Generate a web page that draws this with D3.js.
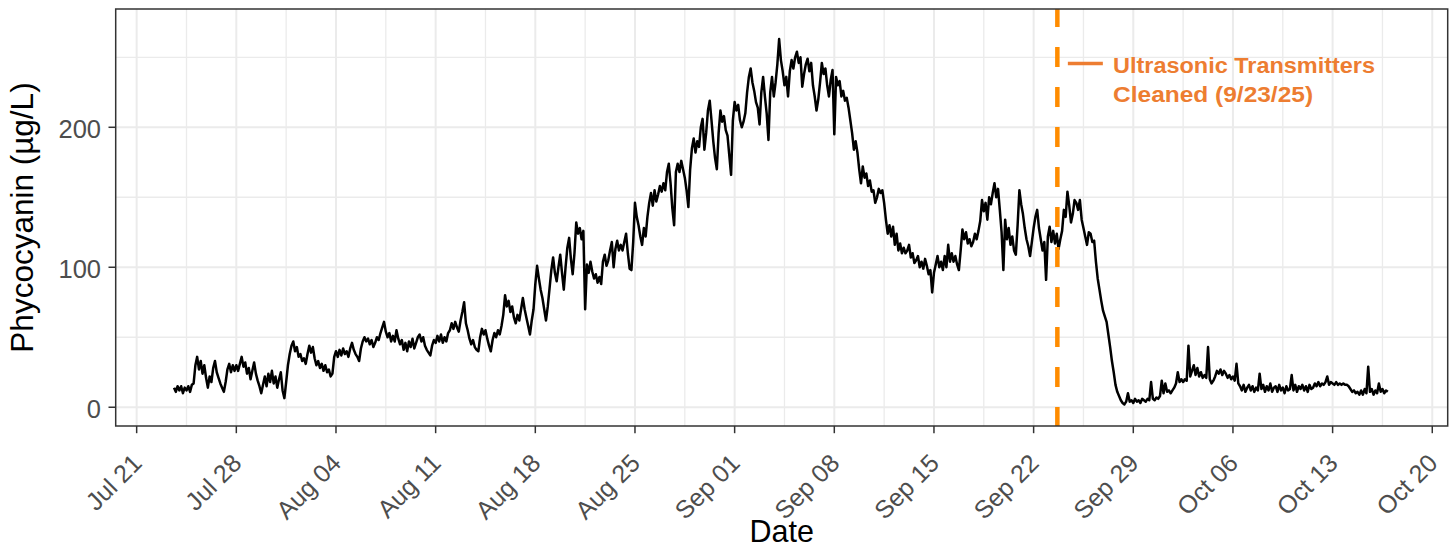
<!DOCTYPE html>
<html><head><meta charset="utf-8">
<script src="https://cdn.jsdelivr.net/npm/d3@7"></script>
<style>body{margin:0;background:#fff}svg{display:block}text{font-family:"Liberation Sans",Arial,sans-serif}</style>
</head><body><svg id="chart" width="1456" height="548"></svg>
<script>
// ---- data (3-hourly readings) ----
const seriesStart = Date.UTC(2025, 6, 23, 15); // Jul 23 15:00
const stepHours = 3;
const julyValues = [
 14,11,15,
 12,15,10,14,12,15,11,16,
 17,30,36,27,33,24,30,21,
 14,22,18,28,33,25,21,17,
 14,11,18,27,31,25,30,26,
 30,26,31,36,29,32,24,28,
 20,26,32,24,19,15,10,16,
 22,15,24,18,26,17,22,14,
 20,25,12,6.5,18,30,38,44
];
const augustValues = [
 47,40,43,36,38,33,35,31,
 38,44,39,43,35,30,33,28,
 31,26,30,25,27,22,24,36,
 40,36,41,37,42,38,40,36,
 42,46,41,38,36,33,42,47,
 50,47,49,45,48,43,46,50,
 48,53,57,61,54,50,53,47,
 51,47,55,49,45,48,41,46,
 40,47,43,49,42,46,50,52,
 47,50,44,41,39,37,44,48,
 46,51,47,52,46,50,47,53,
 55,60,56,61,57,54,62,68,
 75,60,55,49,45,48,43,41,
 40,50,56,52,55,49,44,40,
 48,53,50,55,52,58,66,80,
 72,76,68,72,64,60,66,62,
 70,78,70,64,58,52,62,70,
 88,101,92,84,78,70,62,72,
 85,98,107,96,90,100,109,96,
 84,100,114,121,106,95,110,132,
 124,128,120,126,70,102,96,104,
 97,92,95,89,93,88,104,109,
 101,105,112,118,100,113,119,112,
 116,112,118,124,110,99,98,118,
 146,136,130,122,116,128,122,136,
 146,153,144,155,147,152,158,154,
 160,155,168,174,160,142,130,168,
 174,168,176,170,164,155,143,170,
 185,192,182,190,186,200,206,184,
 196,212,219,205,190,178,170,196,
 212,204,208,198,194,180,166,205
];
const septemberValues = [
 218,212,216,205,200,204,210,225,
 236,242,232,226,218,214,202,225,
 236,222,210,191,225,236,222,232,
 245,263,248,240,230,236,222,240,
 248,242,250,254,246,250,229,238,
 245,249,240,246,230,222,212,220,
 232,246,238,242,230,222,234,241,
 195,236,230,233,222,226,219,221,
 214,205,196,184,190,182,170,160,
 172,164,167,158,162,154,155,146,
 150,156,153,155,146,134,124,130,
 122,129,116,124,112,117,110,114,
 110,112,116,107,110,103,105,108,
 100,104,99,106,101,95,98,82,
 96,102,108,100,104,98,108,100,
 116,104,110,104,108,102,98,112,
 127,120,125,117,120,115,118,124,
 120,126,133,148,140,146,134,150,
 145,153,160,150,156,141,125,98,
 134,120,128,116,122,112,109,130,
 155,145,138,128,120,115,108,118,
 128,136,141,128,120,112,118,91,
 122,129,118,126,117,124,113,120,
 126,141,136,154,144,132,138,148,
 146,141,148,134,128,122,116,125,
 124,118,119,104,92,84,76,69,
 65,61,52,43,33,25,16,11,
 8,5,3,2,4,10,4,5,
 3,6,4,5,3,6,5,4,
 6,5,18,6,5,7,6,8
];
const octoberValues = [
 19,10,17,11,12,10,12,14,
 17,25,18,20,18,20,19,44,
 22,26,30,23,28,22,25,21,
 23,21,43,20,17,19,22,26,
 24,27,23,26,24,21,23,20,
 22,19,31,17,15,12,16,11,
 14,16,12,15,11,14,12,24,
 13,16,11,15,12,17,11,14,
 15,11,16,12,14,10,15,12,
 13,23,12,16,11,15,13,16,
 12,15,11,16,13,14,17,15,
 18,15,17,16,18,22,16,18,
 17,16,18,16,17,16,17,16,
 16,15,13,11,12,10,11,9,
 12,9,13,10,29,11,13,9,
 12,10,17,11,13,10,12,11
];
const xTickLabels = ["Jul 21","Jul 28","Aug 04","Aug 11","Aug 18","Aug 25","Sep 01","Sep 08","Sep 15","Sep 22","Sep 29","Oct 06","Oct 13","Oct 20"];
const yTickValues = [0, 100, 200];
const yMinorValues = [50, 150, 250];
const cleaningDate = Date.UTC(2025, 8, 23, 16);
const annotationLines = ["Ultrasonic Transmitters", "Cleaned (9/23/25)"];
const xLimits = [Date.UTC(2025, 6, 19, 12, 40), Date.UTC(2025, 9, 21, 2, 0)];
const yLimits = [-13.4, 284.5];

// ---- build ----
const allValues = julyValues.concat(augustValues, septemberValues, octoberValues);
const series = allValues.map((v, i) => ({ date: new Date(seriesStart + i * stepHours * 3600e3), value: v }));
const parseTick = d3.utcParse("%b %d %Y");
const tickDates = xTickLabels.map(s => parseTick(s + " 2025"));
const minorDates = d3.pairs(tickDates).map(([a, b]) => new Date((+a + +b) / 2));

const L = 115.7, R = 1447.7, T = 9, B = 426;
const x = d3.scaleUtc().domain(xLimits.map(d => new Date(d))).range([L, R]);
const y = d3.scaleLinear().domain(yLimits).range([B, T]);

const svg = d3.select("#chart");
svg.append("rect").attr("width", 1456).attr("height", 548).attr("fill", "#fff");
svg.append("defs").append("clipPath").attr("id", "clip")
  .append("rect").attr("x", L).attr("y", T).attr("width", R - L).attr("height", B - T);

const grid = svg.append("g");
grid.selectAll(".vmin").data(minorDates).join("line")
  .attr("x1", d => x(d)).attr("x2", d => x(d)).attr("y1", T).attr("y2", B)
  .attr("stroke", "#EBEBEB").attr("stroke-width", 1.3);
grid.selectAll(".hmin").data(yMinorValues).join("line")
  .attr("x1", L).attr("x2", R).attr("y1", d => y(d)).attr("y2", d => y(d))
  .attr("stroke", "#EBEBEB").attr("stroke-width", 1.3);
grid.selectAll(".vmaj").data(tickDates).join("line")
  .attr("x1", d => x(d)).attr("x2", d => x(d)).attr("y1", T).attr("y2", B)
  .attr("stroke", "#EBEBEB").attr("stroke-width", 2);
grid.selectAll(".hmaj").data(yTickValues).join("line")
  .attr("x1", L).attr("x2", R).attr("y1", d => y(d)).attr("y2", d => y(d))
  .attr("stroke", "#EBEBEB").attr("stroke-width", 2);

const plot = svg.append("g").attr("clip-path", "url(#clip)");
plot.append("path").datum(series)
  .attr("fill", "none").attr("stroke", "#000").attr("stroke-width", 2.5)
  .attr("stroke-linejoin", "round")
  .attr("d", d3.line().x(d => x(d.date)).y(d => y(d.value)));

const cx = x(new Date(cleaningDate));
plot.append("line").attr("x1", cx).attr("x2", cx).attr("y1", B + 1).attr("y2", T)
  .attr("stroke", "#FF8C00").attr("stroke-width", 4.5).attr("stroke-dasharray", "20,20");

// panel border
svg.append("rect").attr("x", L).attr("y", T).attr("width", R - L).attr("height", B - T)
  .attr("fill", "none").attr("stroke", "#333333").attr("stroke-width", 1.5);

// y axis
const yAxis = svg.append("g");
yAxis.selectAll("line").data(yTickValues).join("line")
  .attr("x1", L - 7.2).attr("x2", L).attr("y1", d => y(d)).attr("y2", d => y(d))
  .attr("stroke", "#333333").attr("stroke-width", 1.5);
yAxis.selectAll("text").data(yTickValues).join("text")
  .attr("x", 101).attr("y", d => y(d) + 10.5)
  .attr("text-anchor", "end").attr("font-size", 25.5).attr("fill", "#4D4D4D")
  .text(d => d);

// x axis
const xAxis = svg.append("g");
xAxis.selectAll("line").data(tickDates).join("line")
  .attr("x1", d => x(d)).attr("x2", d => x(d)).attr("y1", B).attr("y2", B + 7.2)
  .attr("stroke", "#333333").attr("stroke-width", 1.5);
xAxis.selectAll("text").data(tickDates).join("text")
  .attr("transform", d => `translate(${x(d) - 6},${B + 26}) rotate(-45) translate(0,18)`)
  .attr("text-anchor", "end")
  .attr("font-size", 25).attr("fill", "#4D4D4D")
  .text((d, i) => xTickLabels[i]);

// titles
svg.append("text").attr("x", (L + R) / 2).attr("y", 542)
  .attr("text-anchor", "middle").attr("font-size", 30.5).attr("fill", "#000").text("Date");
svg.append("text").attr("transform", `translate(32.5,${(T + B) / 2}) rotate(-90)`)
  .attr("text-anchor", "middle").attr("font-size", 31.5).attr("fill", "#000").text("Phycocyanin (µg/L)");

// annotation
const annColor = "#ED7D31";
const annY = y(245.5);
svg.append("line").attr("x1", cx + 10.5).attr("x2", cx + 45.5).attr("y1", annY).attr("y2", annY)
  .attr("stroke", annColor).attr("stroke-width", 3.5);
const lineWidths = [262, 200];
annotationLines.forEach((s, i) => {
  svg.append("text").attr("x", cx + 55.7).attr("y", annY + 9 + i * 29)
    .attr("font-size", 22).attr("font-weight", "bold").attr("fill", annColor)
    .attr("textLength", lineWidths[i]).attr("lengthAdjust", "spacingAndGlyphs")
    .text(s);
});
</script></body></html>
